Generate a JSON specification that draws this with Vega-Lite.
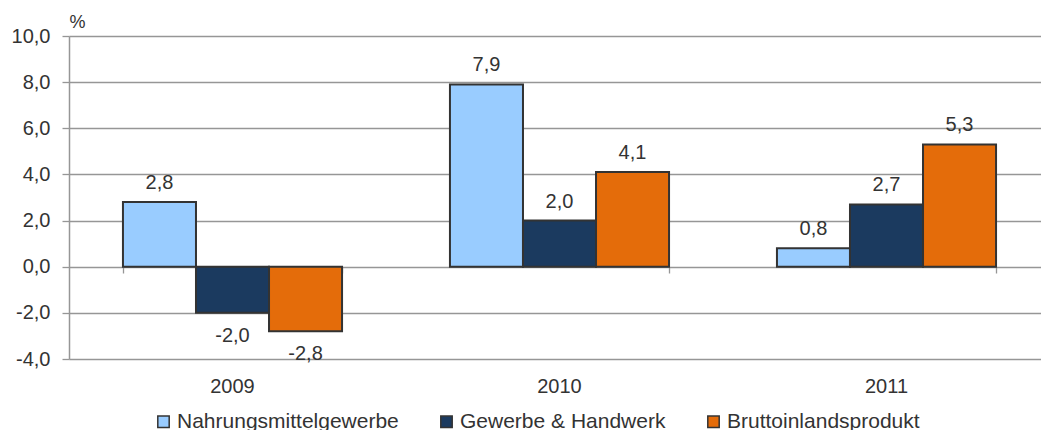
{
  "$schema": "https://vega.github.io/schema/vega-lite/v6.json",
  "autosize": {"type": "none"},
  "padding": {"left": 69, "top": 36, "right": 0, "bottom": 71},
  "width": 981,
  "height": 323,
  "config": {
    "locale": {
      "number": {"decimal": ",", "thousands": ".", "grouping": [3], "currency": ["", " €"], "minus": "-"}
    },
    "font": "Liberation Sans",
    "view": {"stroke": null},
    "text": {"font": "Liberation Sans", "fontSize": 20, "color": "#333333"}
  },
  "data": {
    "values": [
      {"year": "2009", "series": "Nahrungsmittelgewerbe", "value": 2.8},
      {"year": "2009", "series": "Gewerbe & Handwerk", "value": -2.0},
      {"year": "2009", "series": "Bruttoinlandsprodukt", "value": -2.8},
      {"year": "2010", "series": "Nahrungsmittelgewerbe", "value": 7.9},
      {"year": "2010", "series": "Gewerbe & Handwerk", "value": 2.0},
      {"year": "2010", "series": "Bruttoinlandsprodukt", "value": 4.1},
      {"year": "2011", "series": "Nahrungsmittelgewerbe", "value": 0.8},
      {"year": "2011", "series": "Gewerbe & Handwerk", "value": 2.7},
      {"year": "2011", "series": "Bruttoinlandsprodukt", "value": 5.3}
    ]
  },
  "encoding": {
    "x": {
      "field": "year",
      "type": "nominal",
      "scale": {"paddingInner": 0.33, "paddingOuter": 0.165}
    },
    "xOffset": {
      "field": "series",
      "type": "nominal",
      "sort": ["Nahrungsmittelgewerbe", "Gewerbe & Handwerk", "Bruttoinlandsprodukt"],
      "scale": {"paddingInner": 0, "paddingOuter": 0}
    },
    "y": {
      "field": "value",
      "type": "quantitative",
      "scale": {"domain": [-4, 10], "nice": false, "zero": false}
    }
  },
  "layer": [
    {
      "mark": {"type": "bar", "stroke": "#333333", "strokeWidth": 2},
      "encoding": {
        "x": {
          "field": "year",
          "type": "nominal",
          "axis": {
            "orient": "bottom",
            "title": null,
            "labelAngle": 0,
            "labelFontSize": 20,
            "labelColor": "#333333",
            "labelPadding": 17,
            "ticks": false,
            "tickSize": 0,
            "domain": false,
            "grid": false
          }
        },
        "y": {
          "field": "value",
          "type": "quantitative",
          "axis": {
            "values": [-4, -2, 0, 2, 4, 6, 8, 10],
            "format": ".1f",
            "labelFontSize": 20,
            "labelColor": "#333333",
            "labelPadding": 12,
            "tickSize": 7,
            "tickColor": "#969696",
            "tickWidth": 1.3,
            "domainColor": "#969696",
            "domainWidth": 1.5,
            "gridColor": "#969696",
            "gridWidth": 1.3,
            "title": "%",
            "titleAngle": 0,
            "titleAlign": "left",
            "titleBaseline": "alphabetic",
            "titleX": 0,
            "titleY": -9,
            "titleFontSize": 18,
            "titleFontWeight": "normal",
            "titleColor": "#333333"
          }
        },
        "color": {
          "field": "series",
          "type": "nominal",
          "sort": ["Nahrungsmittelgewerbe", "Gewerbe & Handwerk", "Bruttoinlandsprodukt"],
          "scale": {"range": ["#99CCFF", "#1B3A5F", "#E46C0A"]},
          "legend": {
            "title": null,
            "orient": "none",
            "legendX": 84,
            "legendY": 375,
            "direction": "horizontal",
            "columns": 3,
            "gridAlign": "each",
            "columnPadding": 37,
            "symbolType": "square",
            "symbolSize": 130,
            "symbolStrokeColor": "#333333",
            "symbolStrokeWidth": 1.5,
            "labelFontSize": 21,
            "labelColor": "#333333",
            "labelOffset": 3,
            "labelLimit": 0
          }
        }
      }
    },
    {
      "transform": [{"filter": "datum.value >= 0"}],
      "mark": {"type": "text", "baseline": "alphabetic", "dy": -13},
      "encoding": {
        "x": {
          "field": "year",
          "type": "nominal",
          "axis": {
            "orient": "bottom",
            "title": null,
            "labels": false,
            "domain": false,
            "grid": false,
            "ticks": true,
            "tickBand": "extent",
            "tickSize": 6,
            "tickColor": "#969696",
            "tickWidth": 1.3,
            "offset": -92
          }
        },
        "text": {"field": "value", "type": "quantitative", "format": ".1f"}
      }
    },
    {
      "transform": [{"filter": "datum.value < 0"}],
      "mark": {"type": "text", "baseline": "top", "dy": 13},
      "encoding": {
        "x": {"field": "year", "type": "nominal", "axis": null},
        "text": {"field": "value", "type": "quantitative", "format": ".1f"}
      }
    }
  ],
  "resolve": {"axis": {"x": "independent"}}
}
